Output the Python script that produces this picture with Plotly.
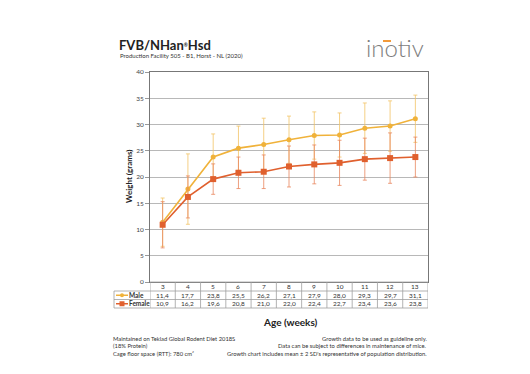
import plotly.graph_objects as go

weeks = [3, 4, 5, 6, 7, 8, 9, 10, 11, 12, 13]
male = [11.4, 17.7, 23.8, 25.5, 26.2, 27.1, 27.9, 28.0, 29.3, 29.7, 31.1]
female = [10.9, 16.2, 19.6, 20.8, 21.0, 22.0, 22.4, 22.7, 23.4, 23.6, 23.8]
male_sd2 = [4.6, 6.7, 4.4, 4.2, 5.0, 4.5, 4.5, 4.2, 4.8, 4.8, 4.5]
female_sd2 = [4.4, 4.0, 2.9, 3.0, 3.2, 3.9, 3.7, 4.3, 4.0, 4.8, 3.8]
male_labels = ["11,4", "17,7", "23,8", "25,5", "26,2", "27,1", "27,9", "28,0", "29,3", "29,7", "31,1"]
female_labels = ["10,9", "16,2", "19,6", "20,8", "21,0", "22,0", "22,4", "22,7", "23,4", "23,6", "23,8"]
y_ticks = [0, 5, 10, 15, 20, 25, 30, 35, 40]

MALE_C = "#F0B23A"
FEMALE_C = "#E0602E"
FONT = "Lato"
W, H = 530, 374
L, R, T, B = 150, 428, 72, 282


def px(x):
    return (x - L) / (R - L)


def py(y):
    return (B - y) / (B - T)


fig = go.Figure()
fig.add_trace(go.Scatter(
    x=weeks, y=male, mode="lines+markers", name="Male",
    line=dict(color=MALE_C, width=1.6),
    marker=dict(symbol="circle", size=5, color=MALE_C),
    error_y=dict(type="data", array=male_sd2, color="#F2C466", thickness=0.8, width=2),
))
fig.add_trace(go.Scatter(
    x=weeks, y=female, mode="lines+markers", name="Female",
    line=dict(color=FEMALE_C, width=1.6),
    marker=dict(symbol="square", size=6, color=FEMALE_C),
    error_y=dict(type="data", array=female_sd2, color="#E8875E", thickness=0.8, width=2),
))

shapes = []
annots = []
grey = "#A0A0A0"
rows = [B, 291, 299.5, 308]
tbl_left = 114
for i, yy in enumerate(rows):
    x0 = L if i == 0 else tbl_left
    shapes.append(dict(type="line", xref="paper", yref="paper", x0=px(x0), x1=1, y0=py(yy), y1=py(yy),
                       line=dict(color=grey, width=0.8)))
for k in range(len(weeks) + 1):
    xv = weeks[0] - 0.5 + k
    shapes.append(dict(type="line", xref="x", yref="paper", x0=xv, x1=xv, y0=py(rows[0]), y1=py(rows[-1]),
                       line=dict(color=grey, width=0.8)))
shapes.append(dict(type="line", xref="paper", yref="paper", x0=px(tbl_left), x1=px(tbl_left),
                   y0=py(rows[1]), y1=py(rows[-1]), line=dict(color=grey, width=0.8)))

centers = [(rows[i] + rows[i + 1]) / 2 for i in range(3)]
tf = dict(size=6.5, color="#333")
for w, ml, fl in zip(weeks, male_labels, female_labels):
    for cy, t in zip(centers, [str(w), ml, fl]):
        annots.append(dict(x=w, y=py(cy), xref="x", yref="paper", text=t, showarrow=False,
                           yanchor="middle", xanchor="center", font=tf, borderpad=0))

for yy, c, sym, name in [(centers[1], MALE_C, "circle", "Male"), (centers[2], FEMALE_C, "rect", "Female")]:
    shapes.append(dict(type="line", xref="paper", yref="paper", x0=px(116), x1=px(128), y0=py(yy), y1=py(yy),
                       line=dict(color=c, width=1.5)))
    if sym == "circle":
        shapes.append(dict(type="circle", xref="paper", yref="paper", x0=px(120), x1=px(124),
                           y0=py(yy + 2), y1=py(yy - 2), fillcolor=c, line=dict(color=c, width=0)))
    else:
        shapes.append(dict(type="rect", xref="paper", yref="paper", x0=px(119.5), x1=px(124.5),
                           y0=py(yy + 2.5), y1=py(yy - 2.5), fillcolor=c, line=dict(color=c, width=0)))
    annots.append(dict(x=px(128), y=py(yy), xref="paper", yref="paper", xanchor="left", yanchor="middle",
                       text="<b>" + name + "</b>", showarrow=False, font=tf, borderpad=0))

annots.append(dict(x=px(290), y=py(322), xref="paper", yref="paper", text="<b>Age (weeks)</b>", showarrow=False,
                   yanchor="middle", font=dict(size=10, color="#222")))
annots.append(dict(x=px(122), y=py(177), xref="paper", yref="paper", text="<b>Weight (grams)</b>", textangle=-90,
                   yanchor="middle", showarrow=False, font=dict(size=8, color="#222")))

annots.append(dict(x=px(118), y=py(45), xref="paper", yref="paper", xanchor="left", yanchor="middle",
                   text="<b>FVB/NHan<span style='font-size:7px'><sup>®</sup></span>Hsd</b>", showarrow=False,
                   font=dict(size=13, color="#222"), borderpad=0))
annots.append(dict(x=px(119), y=py(55.5), xref="paper", yref="paper", xanchor="left", yanchor="middle",
                   text="Production Facility 505 - B1, Horst - NL (2020)", showarrow=False,
                   font=dict(size=6, color="#333"), borderpad=0))
annots.append(dict(x=px(395), y=py(48), xref="paper", yref="paper", xanchor="center", yanchor="middle",
                   text="inotiv", showarrow=False, font=dict(size=24, color="#7E7E7E", weight=300), borderpad=0))
shapes.append(dict(type="line", xref="paper", yref="paper", x0=px(383), x1=px(391), y0=py(41), y1=py(41),
                   line=dict(color="#F29A3A", width=2)))

left_notes = ["Maintained on Teklad Global Rodent Diet 2018S", "(18% Protein)", "Cage floor space (RTT): 780 cm²"]
right_notes = ["Growth data to be used as guideline only.",
               "Data can be subject to differences in maintenance of mice.",
               "Growth chart includes mean ± 2 SD's representative of population distribution."]
nf = dict(size=5.8, color="#333")
for i, t in enumerate(left_notes):
    annots.append(dict(x=px(112), y=py(338 + 7.6 * i), xref="paper", yref="paper", xanchor="left", yanchor="middle",
                       text=t, showarrow=False, font=nf, borderpad=0))
for i, t in enumerate(right_notes):
    annots.append(dict(x=px(428), y=py(338 + 7.6 * i), xref="paper", yref="paper", xanchor="right", yanchor="middle",
                       text=t, showarrow=False, font=nf, borderpad=0))

fig.update_layout(
    width=W, height=H,
    margin=dict(l=L, r=W - R, t=T, b=H - B, pad=0),
    paper_bgcolor="white", plot_bgcolor="white",
    showlegend=False,
    font=dict(family=FONT, color="#333"),
    shapes=shapes, annotations=annots,
    xaxis=dict(range=[weeks[0] - 0.5, weeks[-1] + 0.5], showticklabels=False, showgrid=False, zeroline=False,
               ticks="", showline=True, linecolor="#777", linewidth=1, mirror=True),
    yaxis=dict(range=[0, 40], tickvals=y_ticks, showgrid=True, gridcolor="#B8B8B8", gridwidth=1,
               zeroline=False, showline=True, linecolor="#777", linewidth=1, mirror=True,
               ticks="outside", ticklen=4, tickcolor="#999", tickfont=dict(size=6.5, color="#444")),
)

fig.write_html("out.html", config={"displayModeBar": False},
               post_script="document.body.style.margin='0';document.body.style.overflow='hidden';")
